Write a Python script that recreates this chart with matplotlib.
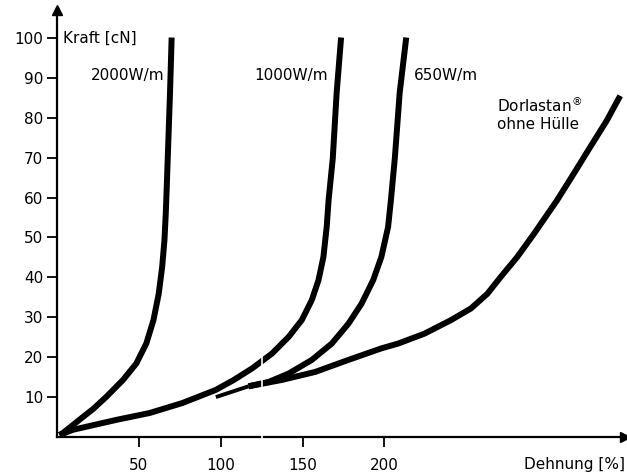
import matplotlib.pyplot as plt

plt.rcParams['font.family'] = ['DejaVu Sans']

# Dehnung [%] / Kraft [cN]
x_2000 = [1.5, 3.6, 15.8, 22.0, 30.2, 40.3, 48.4, 54.5, 58.9, 62.1, 64.2, 65.6, 66.4, 67.0, 67.6, 69.0, 70.0]
y_2000 = [0.5, 1.0, 5.0, 7.0, 10.1, 14.3, 18.4, 23.4, 29.3, 35.9, 42.6, 49.3, 55.9, 62.6, 69.7, 86.3, 100.1]

x_1000 = [1.5, 9.7, 36.4, 56.5, 76.5, 97.0, 108.0, 119.2, 131.3, 141.5, 149.5, 155.6, 159.7, 162.7,
          164.7, 165.9, 168.4, 170.8, 173.5]
y_1000 = [0.5, 1.8, 4.3, 6.0, 8.5, 11.8, 14.3, 17.2, 20.9, 25.1, 29.3, 34.3, 39.3, 45.1,
          52.6, 59.5, 69.7, 86.3, 100.1]

x_650 = [97.0, 117.0, 129.3, 141.5, 155.6, 167.8, 178.0, 186.0, 193.1, 198.1, 202.2, 203.8,
         206.3, 209.3, 213.3]
y_650 = [10.0, 12.7, 13.8, 15.9, 19.3, 23.4, 28.4, 33.4, 39.3, 45.1, 52.6, 58.8,
         69.7, 86.3, 100.1]

x_dorl = [117.0, 137.4, 157.7, 177.9, 198.1, 208.3, 224.5, 240.7, 252.8, 262.9, 271.0, 281.1,
          291.3, 305.4, 315.5, 325.6, 335.8, 344.0]
y_dorl = [12.7, 14.3, 16.3, 19.3, 22.2, 23.4, 25.9, 29.3, 32.2, 35.9, 40.1, 45.1,
          50.9, 59.3, 65.9, 72.6, 79.3, 85.5]

x_ticks = [50, 100, 150, 200]
y_ticks = [10, 20, 30, 40, 50, 60, 70, 80, 90, 100]

fig = plt.figure(figsize=(6.27, 4.76), dpi=100)
ax = fig.add_axes([0.091, 0.082, 0.906, 0.897])

lw = 4.3
for xs, ys in [(x_2000, y_2000), (x_1000, y_1000), (x_650[1:], y_650[1:]), (x_dorl, y_dorl)]:
    ax.plot(xs, ys, color='black', lw=lw, solid_capstyle='butt', solid_joinstyle='round')
# tapered start of the 650 W/m / Dorlastan branch
ax.plot(x_650[:2], y_650[:2], color='black', lw=2.8, solid_capstyle='butt')

# white break marks seen in the scan
ax.vlines(125, -1, 22, color='white', lw=1.2, zorder=5, clip_on=False)

ax.set_xlim(0, 347)
ax.set_ylim(0, 107)
ax.spines['top'].set_visible(False)
ax.spines['right'].set_visible(False)
ax.spines['left'].set_linewidth(1.6)
ax.spines['bottom'].set_linewidth(1.6)
ax.plot(1, 0, '>k', ms=7, transform=ax.get_yaxis_transform(), clip_on=False)
ax.plot(0, 1, '^k', ms=7, transform=ax.get_xaxis_transform(), clip_on=False)

ax.set_xticks(x_ticks)
ax.set_yticks(y_ticks)
ax.tick_params(axis='both', length=7, width=1.3, labelsize=11, pad=3)
ax.tick_params(axis='x', pad=8)

fs = 11
ax.text(3.6, 100, 'Kraft [cN]', fontsize=fs, va='center', ha='left')
ax.text(1.0, -0.065, 'Dehnung [%]', fontsize=fs, va='center', ha='right', transform=ax.transAxes)
ax.text(65.5, 90.5, '2000W/m', fontsize=fs, va='center', ha='right')
ax.text(165.5, 90.5, '1000W/m', fontsize=fs, va='center', ha='right')
ax.text(218, 90.5, '650W/m', fontsize=fs, va='center', ha='left')
ax.text(269, 81, 'Dorlastan$^{\u00ae}$\nohne H\u00fclle', fontsize=fs, va='center', ha='left',
        linespacing=1.2)

fig.savefig('out.png', dpi=100)
